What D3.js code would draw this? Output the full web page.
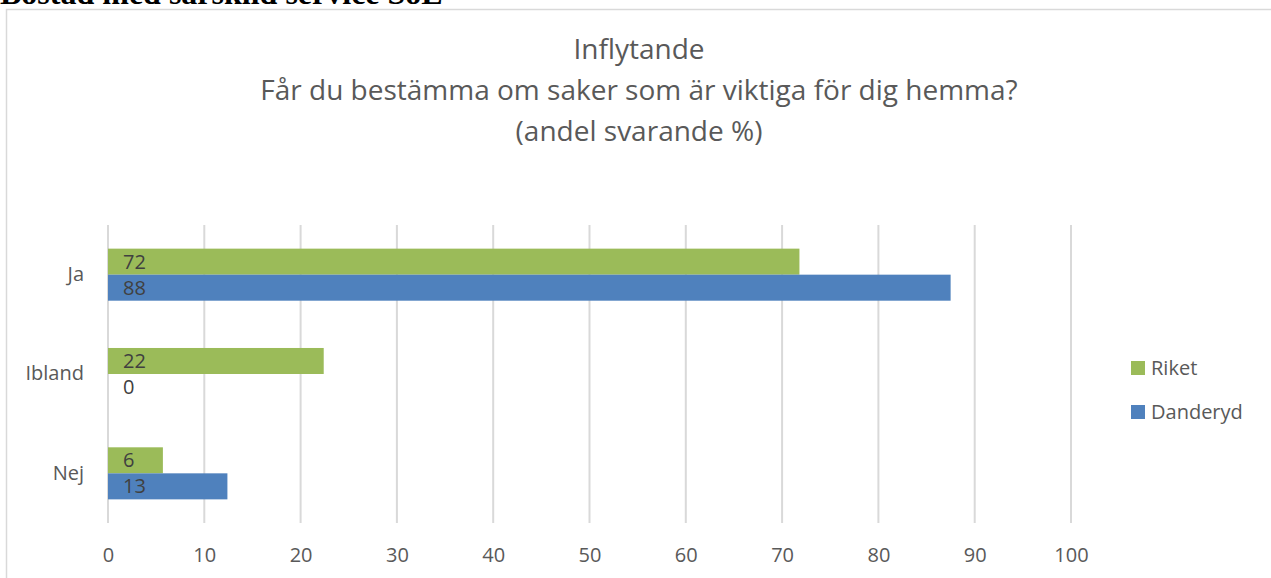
<!DOCTYPE html>
<html lang="sv">
<head>
<meta charset="UTF-8">
<title>Inflytande</title>
<script src="https://d3js.org/d3.v7.min.js"></script>
<style>
  body { margin: 0; background: #fff; overflow: hidden; }
  svg { display: block; }
  text { font-family: "Open Sans", "Noto Sans", sans-serif; fill: #595959; }
  .head { font-family: "Liberation Serif", "DejaVu Serif", serif; font-weight: bold; fill: #000; }
</style>
</head>
<body>
<svg id="chart" width="1271" height="578"></svg>
<script>
// data
const categories = ["Ja", "Ibland", "Nej"];
const seriesNames = ["Riket", "Danderyd"];
const riket = [71.8, 22.4, 5.7];
const danderyd = [87.5, 0, 12.4];
const riketLabels = [72, 22, 6];
const danderydLabels = [88, 0, 13];
const xTicks = [0, 10, 20, 30, 40, 50, 60, 70, 80, 90, 100];
const titleLines = ["Inflytande", "Får du bestämma om saker som är viktiga för dig hemma?", "(andel svarande %)"];
const colors = {Riket: "#9bbb59", Danderyd: "#4f81bd"};

const svg = d3.select("#chart");

// page heading, cut off at top like in the document
svg.append("text").attr("class", "head")
  .attr("x", 0).attr("y", 4)
  .attr("font-size", 32)
  .text("Bostad med särskild service SoL");

// chart frame
svg.append("rect")
  .attr("x", 6.5).attr("y", 9.5)
  .attr("width", 1400).attr("height", 700)
  .attr("fill", "#fff").attr("stroke", "#d9d9d9").attr("stroke-width", 1.5);

// title
svg.append("g").selectAll("text")
  .data(titleLines)
  .join("text")
  .attr("x", 639)
  .attr("y", (d, i) => 59 + i * 41)
  .attr("text-anchor", "middle")
  .attr("font-size", 28)
  .text(d => d);

const x = d3.scaleLinear().domain([0, 100]).range([108, 1071]);
const y = d3.scaleBand().domain(categories).range([225, 523]).paddingInner(0.476).paddingOuter(0.238);
const ySub = d3.scaleBand().domain(seriesNames).range([0, y.bandwidth()]);

// gridlines
svg.append("g").selectAll("line")
  .data(xTicks)
  .join("line")
  .attr("x1", d => x(d)).attr("x2", d => x(d))
  .attr("y1", 225).attr("y2", 523)
  .attr("stroke", "#d9d9d9").attr("stroke-width", 2);

// x axis labels
const xAxis = svg.append("g")
  .attr("transform", "translate(0,523)")
  .call(d3.axisBottom(x).tickValues(xTicks).tickSize(0).tickPadding(25));
xAxis.select(".domain").remove();
xAxis.selectAll("text")
  .attr("font-size", 20)
  .attr("font-family", null)
  .attr("fill", "#595959");

// category labels
const yAxis = svg.append("g")
  .attr("transform", "translate(84,0)")
  .call(d3.axisLeft(y).tickSize(0).tickPadding(0));
yAxis.select(".domain").remove();
yAxis.selectAll("text")
  .attr("font-size", 20)
  .attr("font-family", null)
  .attr("fill", "#595959");

const rows = categories.map((c, i) => ({
  cat: c,
  values: [
    {name: "Riket", v: riket[i], label: riketLabels[i]},
    {name: "Danderyd", v: danderyd[i], label: danderydLabels[i]}
  ]
}));

const groups = svg.append("g").selectAll("g")
  .data(rows)
  .join("g")
  .attr("transform", d => `translate(0,${y(d.cat)})`);

groups.selectAll("rect")
  .data(d => d.values)
  .join("rect")
  .attr("x", x(0))
  .attr("y", d => ySub(d.name))
  .attr("width", d => x(d.v) - x(0))
  .attr("height", ySub.bandwidth())
  .attr("fill", d => colors[d.name]);

groups.selectAll("text.val")
  .data(d => d.values)
  .join("text")
  .attr("class", "val")
  .attr("x", x(0) + 15)
  .attr("y", d => ySub(d.name) + ySub.bandwidth() / 2)
  .attr("dy", "0.35em")
  .attr("font-size", 20)
  .style("fill", "#404040")
  .text(d => d.label);

// legend
const legend = svg.append("g").selectAll("g")
  .data(seriesNames)
  .join("g")
  .attr("transform", (d, i) => `translate(1131,${368 + i * 44})`);
legend.append("rect")
  .attr("x", 0).attr("y", -7)
  .attr("width", 14).attr("height", 14)
  .attr("fill", d => colors[d]);
legend.append("text")
  .attr("x", 20).attr("dy", "0.35em")
  .attr("font-size", 20)
  .text(d => d);
</script>
</body>
</html>
